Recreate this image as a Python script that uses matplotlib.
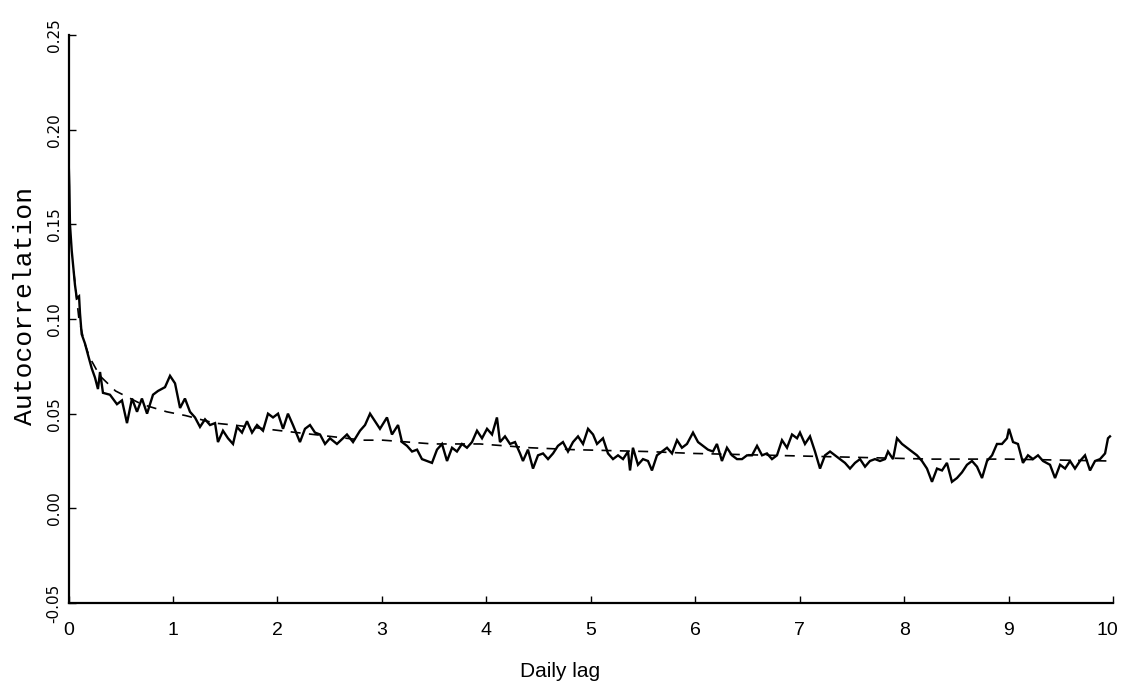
import matplotlib
matplotlib.use("Agg")
import matplotlib.pyplot as plt
from matplotlib.transforms import ScaledTranslation

# Empirical autocorrelation (solid line)
lag = [0.000, 0.008, 0.014, 0.031, 0.046, 0.062, 0.079, 0.101, 0.110, 0.126,
       0.158, 0.187, 0.222, 0.254, 0.282, 0.302, 0.330, 0.397, 0.464, 0.512,
       0.560, 0.608, 0.656, 0.703, 0.752, 0.809, 0.857, 0.924, 0.972, 1.020,
       1.068, 1.115, 1.163, 1.211, 1.259, 1.307, 1.355, 1.403, 1.431, 1.479,
       1.527, 1.575, 1.613, 1.661, 1.709, 1.757, 1.805, 1.862, 1.910, 1.958,
       2.006, 2.054, 2.101, 2.149, 2.216, 2.264, 2.312, 2.360, 2.408, 2.456,
       2.503, 2.570, 2.628, 2.666, 2.724, 2.791, 2.839, 2.887, 2.934, 2.982,
       3.049, 3.097, 3.155, 3.193, 3.241, 3.289, 3.337, 3.384, 3.432, 3.480,
       3.528, 3.576, 3.624, 3.672, 3.719, 3.767, 3.815, 3.863, 3.911, 3.959,
       4.007, 4.055, 4.102, 4.131, 4.179, 4.227, 4.275, 4.323, 4.351, 4.399,
       4.447, 4.495, 4.543, 4.591, 4.639, 4.686, 4.734, 4.782, 4.830, 4.878,
       4.926, 4.974, 5.022, 5.060, 5.117, 5.165, 5.213, 5.261, 5.309, 5.357,
       5.376, 5.404, 5.452, 5.500, 5.548, 5.586, 5.634, 5.682, 5.730, 5.778,
       5.826, 5.873, 5.921, 5.979, 6.027, 6.075, 6.122, 6.170, 6.208, 6.256,
       6.304, 6.352, 6.400, 6.448, 6.496, 6.544, 6.592, 6.640, 6.687, 6.735,
       6.783, 6.831, 6.879, 6.927, 6.975, 7.003, 7.051, 7.099, 7.147, 7.195,
       7.243, 7.291, 7.338, 7.386, 7.434, 7.482, 7.530, 7.578, 7.626, 7.673,
       7.721, 7.769, 7.817, 7.846, 7.894, 7.932, 7.980, 8.027, 8.075, 8.123,
       8.171, 8.219, 8.267, 8.315, 8.363, 8.410, 8.458, 8.506, 8.554, 8.602,
       8.650, 8.698, 8.746, 8.794, 8.842, 8.889, 8.937, 8.985, 9.004, 9.043,
       9.090, 9.138, 9.186, 9.234, 9.282, 9.330, 9.397, 9.445, 9.493, 9.541,
       9.589, 9.636, 9.684, 9.732, 9.780, 9.828, 9.876, 9.924, 9.952, 9.971]
acf = [0.186, 0.170, 0.150, 0.136, 0.127, 0.118, 0.111, 0.112, 0.103, 0.092,
       0.087, 0.081, 0.074, 0.069, 0.063, 0.072, 0.061, 0.060, 0.055, 0.057,
       0.045, 0.058, 0.051, 0.058, 0.050, 0.060, 0.062, 0.064, 0.070, 0.066,
       0.053, 0.058, 0.051, 0.048, 0.043, 0.047, 0.044, 0.045, 0.035, 0.041,
       0.037, 0.034, 0.043, 0.040, 0.046, 0.040, 0.044, 0.041, 0.050, 0.048,
       0.050, 0.042, 0.050, 0.044, 0.035, 0.042, 0.044, 0.040, 0.039, 0.034,
       0.037, 0.034, 0.037, 0.039, 0.035, 0.041, 0.044, 0.050, 0.046, 0.042,
       0.048, 0.039, 0.044, 0.035, 0.033, 0.030, 0.031, 0.026, 0.025, 0.024,
       0.031, 0.034, 0.025, 0.032, 0.030, 0.034, 0.032, 0.035, 0.041, 0.037,
       0.042, 0.039, 0.048, 0.035, 0.038, 0.034, 0.035, 0.029, 0.025, 0.031,
       0.021, 0.028, 0.029, 0.026, 0.029, 0.033, 0.035, 0.030, 0.035, 0.038,
       0.034, 0.042, 0.039, 0.034, 0.037, 0.029, 0.026, 0.028, 0.026, 0.030,
       0.020, 0.032, 0.023, 0.026, 0.025, 0.020, 0.028, 0.030, 0.032, 0.029,
       0.036, 0.032, 0.034, 0.040, 0.035, 0.033, 0.031, 0.030, 0.034, 0.025,
       0.032, 0.028, 0.026, 0.026, 0.028, 0.028, 0.033, 0.028, 0.029, 0.026,
       0.028, 0.036, 0.032, 0.039, 0.037, 0.040, 0.034, 0.038, 0.030, 0.021,
       0.028, 0.030, 0.028, 0.026, 0.024, 0.021, 0.024, 0.026, 0.022, 0.025,
       0.026, 0.025, 0.026, 0.030, 0.026, 0.037, 0.034, 0.032, 0.030, 0.028,
       0.025, 0.021, 0.014, 0.021, 0.020, 0.024, 0.014, 0.016, 0.019, 0.023,
       0.025, 0.022, 0.016, 0.025, 0.028, 0.034, 0.034, 0.037, 0.042, 0.035,
       0.034, 0.024, 0.028, 0.026, 0.028, 0.025, 0.023, 0.016, 0.023, 0.021,
       0.025, 0.021, 0.025, 0.028, 0.020, 0.025, 0.026, 0.029, 0.037, 0.038]

# Fitted decay (dashed line)
fit_lag = [0.05, 0.10, 0.15, 0.20, 0.30, 0.45, 0.70, 0.94, 1.12, 1.40, 1.58,
           2.03, 2.82, 3.01, 3.49, 3.94, 4.42, 4.83, 5.54, 5.98, 8.25, 8.54,
           8.99, 9.97]
fit_acf = [0.125, 0.100, 0.088, 0.080, 0.070, 0.062, 0.055, 0.051, 0.049,
           0.045, 0.044, 0.041, 0.036, 0.036, 0.034, 0.034, 0.032, 0.031,
           0.030, 0.029, 0.026, 0.026, 0.026, 0.025]

x_ticks = [0, 1, 2, 3, 4, 5, 6, 7, 8, 9, 10]
y_ticks = [-0.05, 0.00, 0.05, 0.10, 0.15, 0.20, 0.25]
y_tick_labels = ["-0.05", "0.00", "0.05", "0.10", "0.15", "0.20", "0.25"]

W, H = 1122, 686
fig = plt.figure(figsize=(W / 100, H / 100), dpi=100)
left, right, top, bottom = 68.5, 1113, 35, 603
ax = fig.add_axes([left / W, (H - bottom) / H, (right - left) / W, (bottom - top) / H])

ax.plot(lag, acf, color="black", lw=1.7, solid_joinstyle="miter")
ax.plot(fit_lag, fit_acf, color="black", lw=1.2, dashes=(6, 5))

ax.set_xlim(0, 10)
ax.set_ylim(-0.05, 0.25)
for s in ("top", "right"):
    ax.spines[s].set_visible(False)
for s in ("left", "bottom"):
    ax.spines[s].set_linewidth(1.6)

sans = ["Liberation Sans", "DejaVu Sans"]
ax.set_xticks(x_ticks)
ax.set_xticklabels([str(t) for t in x_ticks], family=sans, fontsize=14)
ax.set_yticks(y_ticks)
ax.set_yticklabels(y_tick_labels, family=["DejaVu Sans"],
                   fontsize=11, rotation=90, va="center")
ax.tick_params(axis="x", direction="in", length=5, width=1.0, pad=14)
ax.tick_params(axis="y", direction="in", length=5, width=1.0, pad=5)

# nudge the last x tick label so it stays inside the figure
last = ax.get_xticklabels()[-1]
last.set_transform(last.get_transform() + ScaledTranslation(-4 / 72, 0, fig.dpi_scale_trans))

ax.set_xlabel("Daily lag", family=sans, fontsize=15)
ax.xaxis.set_label_coords((560 - left) / (right - left), -0.103)
ax.set_ylabel("Autocorrelation", family=["Liberation Mono", "DejaVu Sans"], fontsize=19)
ax.yaxis.set_label_coords((37 - left) / (right - left), (bottom - 306) / (bottom - top))

fig.savefig("out.png", dpi=100)
